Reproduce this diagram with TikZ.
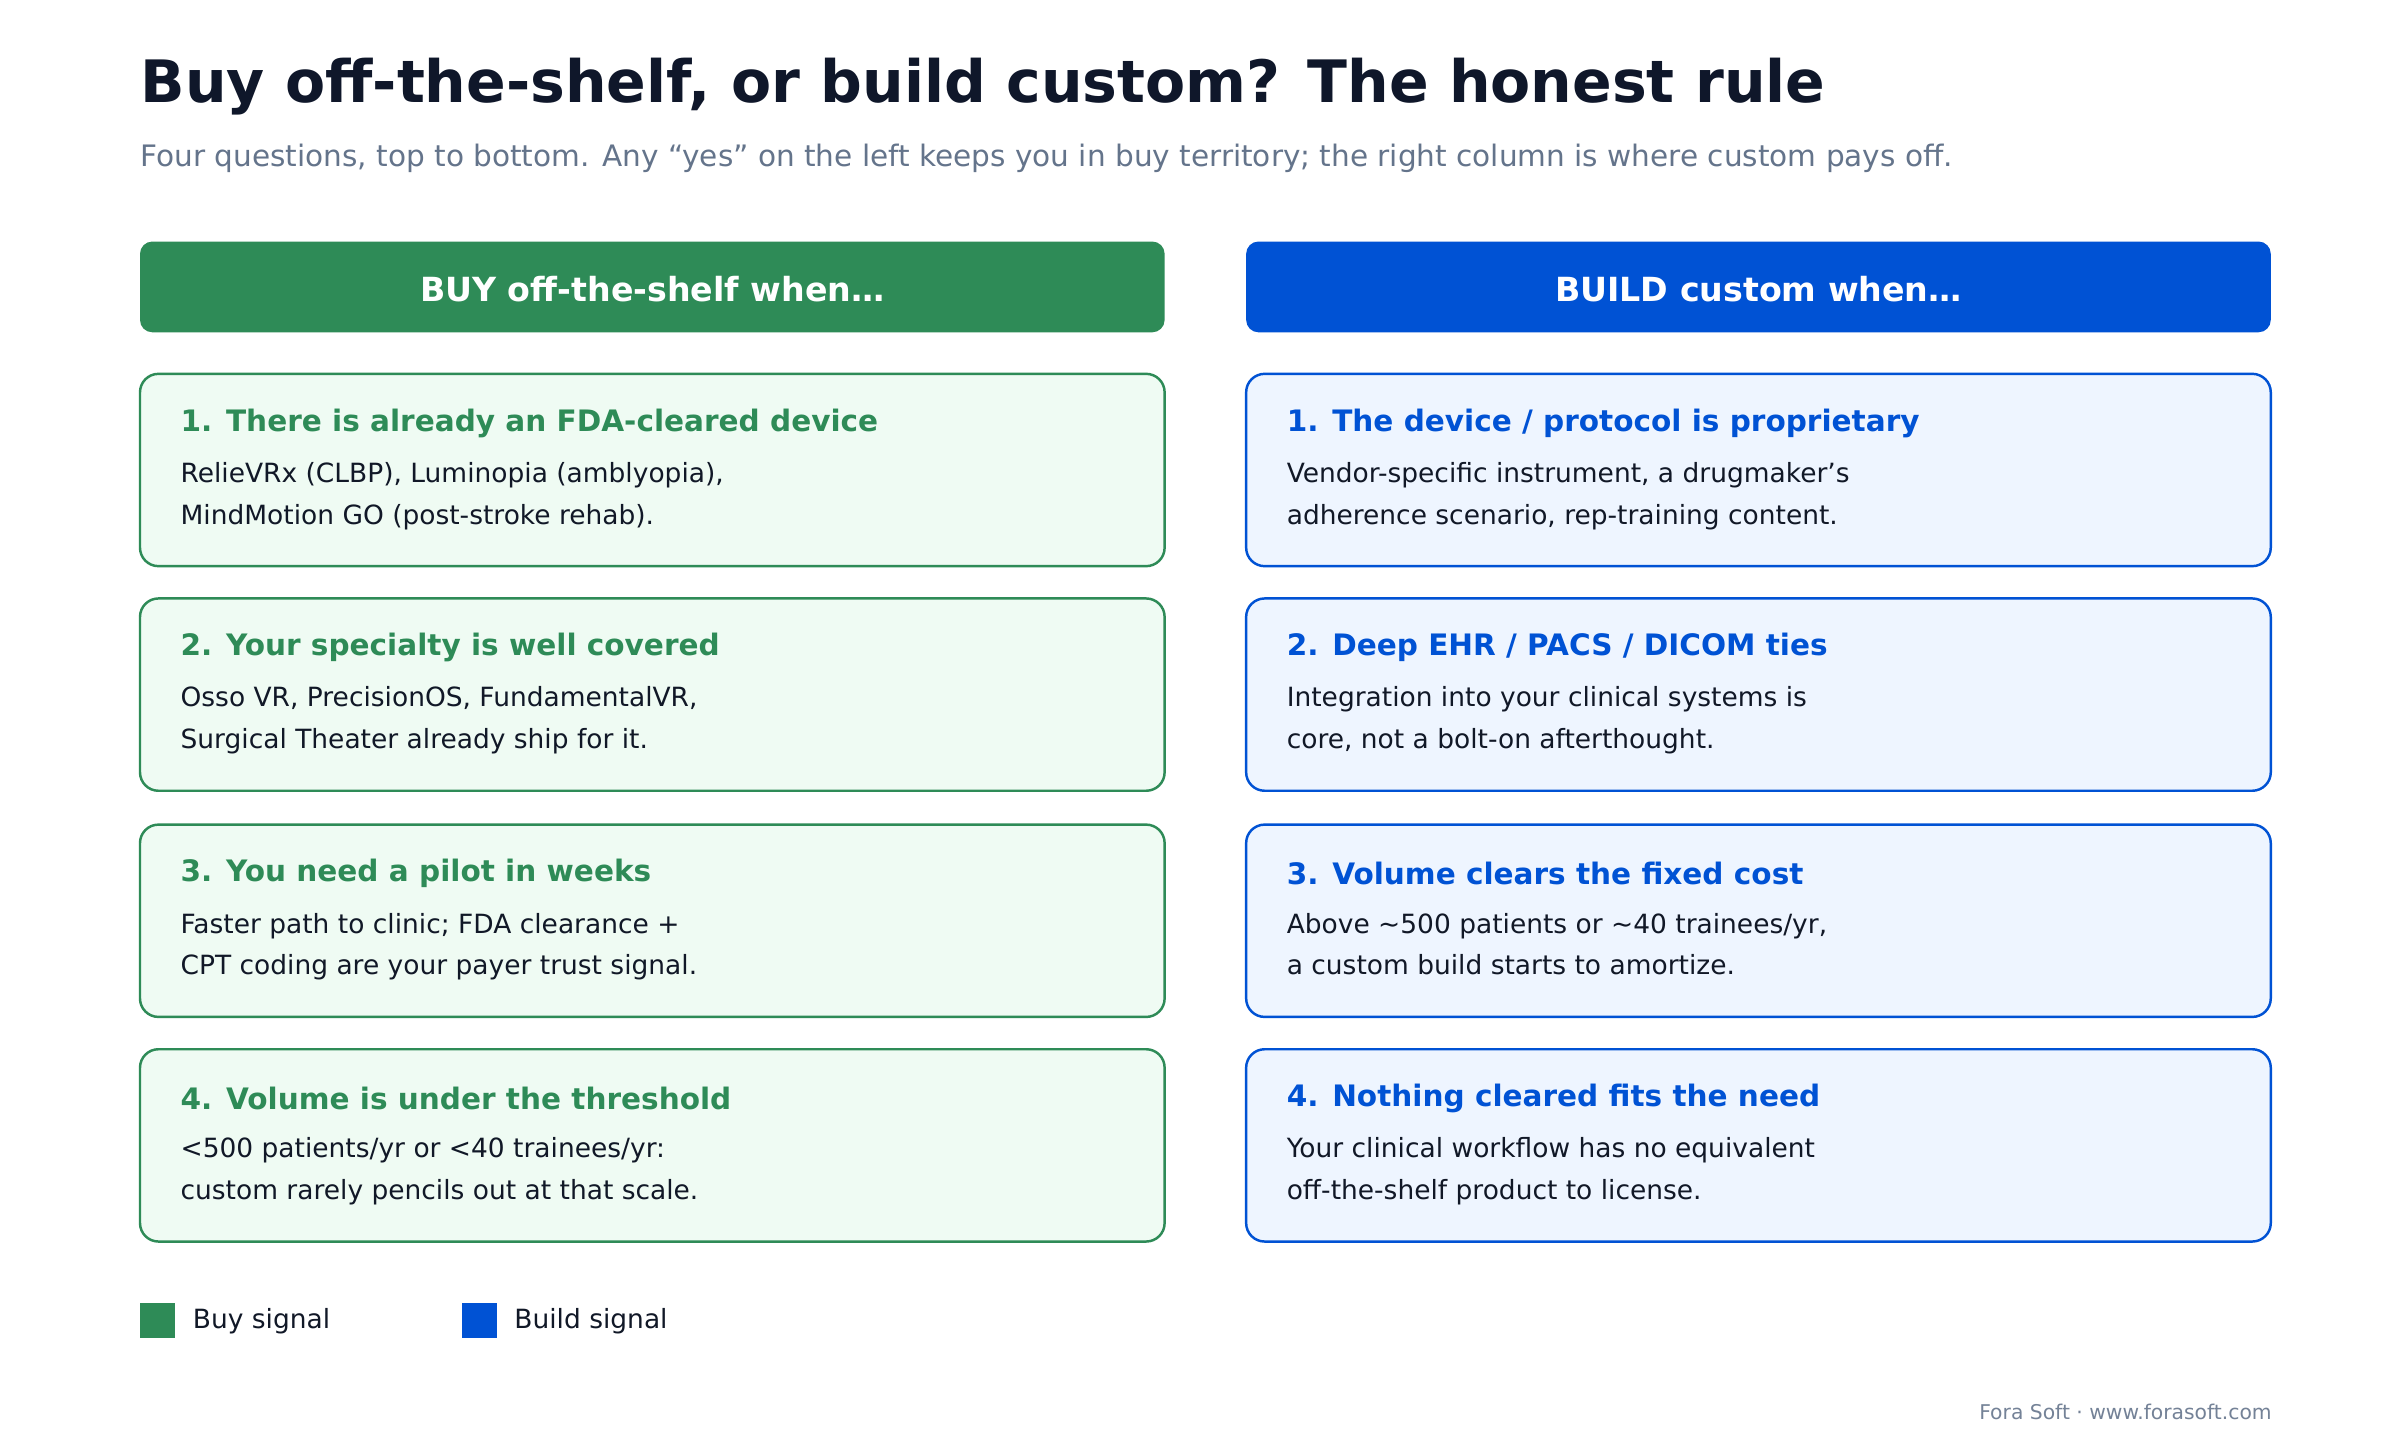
\documentclass[tikz,border=0pt]{standalone}
\usepackage{fontspec}
\setmainfont{DejaVu Sans}
\begin{document}
\definecolor{gr}{HTML}{2E8B57}
\definecolor{grf}{HTML}{EFFBF3}
\definecolor{bl}{HTML}{0052D4}
\definecolor{blf}{HTML}{EEF5FF}
\definecolor{ttl}{HTML}{0F172A}
\definecolor{sub}{HTML}{64748B}
\definecolor{txt}{HTML}{111827}
\begin{tikzpicture}[x=0.5pt,y=-0.5pt,
 hdr/.style={rounded corners=4pt,draw=none},
 card/.style={rounded corners=6pt,line width=0.8pt},
 ctitle/.style={anchor=west,inner sep=0,font=\fontsize{9.6}{11}\selectfont\bfseries},
 body/.style={anchor=north west,inner sep=0,align=left,text=txt,font=\fontsize{8.6}{13.6}\selectfont}]
\useasboundingbox[fill=white] (0,0) rectangle (1560,936);
\node[anchor=west,inner sep=0,text=ttl,font=\fontsize{19}{22}\selectfont\bfseries] (title) at (91,56) {Buy off-the-shelf, or build custom? The honest rule};
\node[anchor=west,inner sep=0,text=sub,font=\fontsize{9.6}{11}\selectfont] (subt) at (91,103) {Four questions, top to bottom. Any “yes” on the left keeps you in buy territory; the right column is where custom pays off.};
\fill[gr,hdr] (91,157) rectangle (757,216);
\node[text=white,font=\fontsize{10.8}{12}\selectfont\bfseries] (hb) at (424,188) {BUY off-the-shelf when…};
\fill[bl,hdr] (810,157) rectangle (1476,216);
\node[text=white,font=\fontsize{10.8}{12}\selectfont\bfseries] (hc) at (1143,188) {BUILD custom when…};
\def\cards{{243,389,536,682}}
\foreach \y/\t/\b [count=\i] in {
 243/{1. There is already an FDA-cleared device}/{RelieVRx (CLBP), Luminopia (amblyopia),\\MindMotion GO (post-stroke rehab).},
 389/{2. Your specialty is well covered}/{Osso VR, PrecisionOS, FundamentalVR,\\Surgical Theater already ship for it.},
 536/{3. You need a pilot in weeks}/{Faster path to clinic; FDA clearance +\\CPT coding are your payer trust signal.},
 682/{4. Volume is under the threshold}/{<500 patients/yr or <40 trainees/yr:\\custom rarely pencils out at that scale.}}{
 \draw[card,draw=gr,fill=grf] (91,\y) rectangle (757,\y+125);
 \node[ctitle,text=gr] (bt\i) at (117,\y+32) {\t};
 \node[body] (bb\i) at (117,\y+57) {\b};
}
\foreach \y/\t/\b [count=\i] in {
 243/{1. The device / protocol is proprietary}/{Vendor-specific instrument, a drugmaker’s\\adherence scenario, rep-training content.},
 389/{2. Deep EHR / PACS / DICOM ties}/{Integration into your clinical systems is\\core, not a bolt-on afterthought.},
 536/{3. Volume clears the fixed cost}/{Above \textasciitilde500 patients or \textasciitilde40 trainees/yr,\\a custom build starts to amortize.},
 682/{4. Nothing cleared fits the need}/{Your clinical workflow has no equivalent\\off-the-shelf product to license.}}{
 \draw[card,draw=bl,fill=blf] (810,\y) rectangle (1476,\y+125);
 \node[ctitle,text=bl] (ct\i) at (836,\y+32) {\t};
 \node[body] (cb\i) at (836,\y+57) {\b};
}
\fill[gr] (91,847) rectangle (114,870);
\node[anchor=west,inner sep=0,text=txt,font=\fontsize{8.6}{10}\selectfont] (lg1) at (125,859) {Buy signal};
\fill[bl] (300,847) rectangle (323,870);
\node[anchor=west,inner sep=0,text=txt,font=\fontsize{8.6}{10}\selectfont] (lg2) at (334,859) {Build signal};
\node[anchor=east,inner sep=0,text=sub!90,font=\fontsize{6.6}{8}\selectfont] (foot) at (1477,918) {Fora Soft · www.forasoft.com};
\end{tikzpicture}
\end{document}
